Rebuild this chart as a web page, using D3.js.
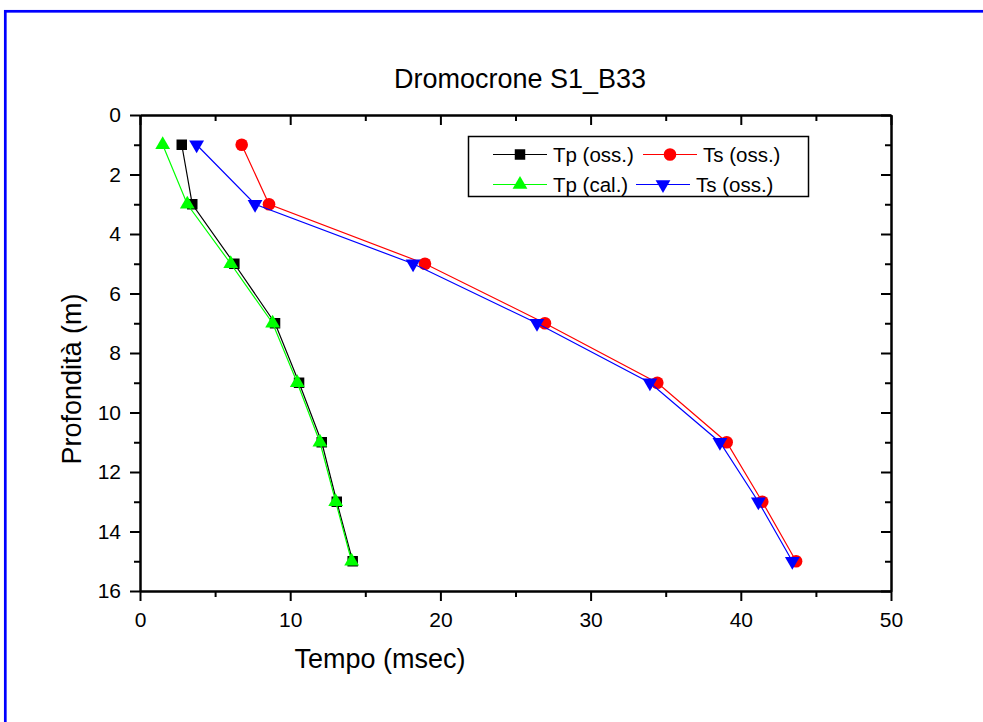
<!DOCTYPE html>
<html>
<head>
<meta charset="utf-8">
<script src="https://cdn.jsdelivr.net/npm/d3@7"></script>
<style>
  html, body { margin: 0; padding: 0; background: #fff; }
  svg { display: block; }
  text { font-family: "Liberation Sans", Arial, Helvetica, sans-serif; fill: #000; }
</style>
</head>
<body>
<svg id="chart" width="983" height="722"></svg>
<script>
// ---- data ----
const depths = [1, 3, 5, 7, 9, 11, 13, 15];
const tpOss = [2.78, 3.48, 6.28, 8.99, 10.59, 12.1, 13.1, 14.16];
const tsOss = [6.77, 8.59, 18.97, 26.96, 34.44, 39.06, 41.43, 43.68];
const tpCal = [1.51, 3.15, 6.04, 8.83, 10.47, 11.98, 13.03, 14.09];
const tsOss2 = [3.77, 7.66, 18.18, 26.43, 33.95, 38.61, 41.17, 43.43];
const seriesNames = ["Tp (oss.)", "Ts (oss.)", "Tp (cal.)", "Ts (oss.)"];
const xTicks = [0, 10, 20, 30, 40, 50];
const xMinorTicks = [5, 15, 25, 35, 45];
const yTicks = [0, 2, 4, 6, 8, 10, 12, 14, 16];
const yMinorTicks = [1, 3, 5, 7, 9, 11, 13, 15];
const chartTitle = "Dromocrone S1_B33";
const xTitle = "Tempo (msec)";
const yTitle = "Profondità (m)";

const series = [
  { name: seriesNames[0], values: tpOss, color: "#000000", symbol: d3.symbolSquare, size: 110, rot: 0 },
  { name: seriesNames[1], values: tsOss, color: "#ff0000", symbol: d3.symbolCircle, size: 125, rot: 0 },
  { name: seriesNames[2], values: tpCal, color: "#00ff00", symbol: d3.symbolTriangle, size: 95, rot: 0 },
  { name: seriesNames[3], values: tsOss2, color: "#0000ff", symbol: d3.symbolTriangle, size: 95, rot: 180 }
];

const svg = d3.select("#chart");

// outer blue frame
svg.append("rect")
  .attr("x", 5.3).attr("y", 11.3)
  .attr("width", 1100).attr("height", 1100)
  .attr("fill", "none").attr("stroke", "#0000ff").attr("stroke-width", 2.7);

const L = 140, R = 891, T = 115, B = 591;
const x = d3.scaleLinear().domain([0, 50]).range([L, R]);
const y = d3.scaleLinear().domain([0, 16]).range([T, B]);

function styleAxis(g) {
  g.select(".domain").attr("stroke", "#000").attr("stroke-width", 2);
  g.selectAll(".tick line").attr("stroke", "#000").attr("stroke-width", 2);
  g.selectAll(".tick text").attr("font-size", 21).attr("font-family", '"Liberation Sans", Arial, sans-serif').attr("fill", "#000");
}

// bottom axis
const gB = svg.append("g").attr("transform", `translate(0,${B})`)
  .call(d3.axisBottom(x).tickValues(xTicks).tickSize(10).tickPadding(11).tickSizeOuter(0).tickFormat(d3.format("d")));
styleAxis(gB);
const gBm = svg.append("g").attr("transform", `translate(0,${B})`)
  .call(d3.axisBottom(x).tickValues(xMinorTicks).tickSize(6).tickSizeOuter(0).tickFormat(""));
styleAxis(gBm);

// top axis (inward ticks)
const gT = svg.append("g").attr("transform", `translate(0,${T})`)
  .call(d3.axisTop(x).tickValues(xTicks).tickSize(-10).tickSizeOuter(0).tickFormat(""));
styleAxis(gT);
const gTm = svg.append("g").attr("transform", `translate(0,${T})`)
  .call(d3.axisTop(x).tickValues(xMinorTicks).tickSize(-6).tickSizeOuter(0).tickFormat(""));
styleAxis(gTm);

// left axis
const gL = svg.append("g").attr("transform", `translate(${L},0)`)
  .call(d3.axisLeft(y).tickValues(yTicks).tickSize(10).tickPadding(9).tickSizeOuter(0).tickFormat(d3.format("d")));
styleAxis(gL);
const gLm = svg.append("g").attr("transform", `translate(${L},0)`)
  .call(d3.axisLeft(y).tickValues(yMinorTicks).tickSize(6).tickSizeOuter(0).tickFormat(""));
styleAxis(gLm);

// right axis (inward ticks)
const gR = svg.append("g").attr("transform", `translate(${R},0)`)
  .call(d3.axisRight(y).tickValues(yTicks).tickSize(-10).tickSizeOuter(0).tickFormat(""));
styleAxis(gR);
const gRm = svg.append("g").attr("transform", `translate(${R},0)`)
  .call(d3.axisRight(y).tickValues(yMinorTicks).tickSize(-6).tickSizeOuter(0).tickFormat(""));
styleAxis(gRm);

// series
const line = d3.line().x(d => x(d.v)).y(d => y(d.d));
series.forEach(s => {
  const pts = s.values.map((v, i) => ({ v, d: depths[i] }));
  svg.append("path").datum(pts)
    .attr("fill", "none").attr("stroke", s.color).attr("stroke-width", 1.2)
    .attr("d", line);
  svg.append("g").selectAll("path").data(pts).join("path")
    .attr("d", d3.symbol().type(s.symbol).size(s.size))
    .attr("transform", d => `translate(${x(d.v)},${y(d.d)}) rotate(${s.rot})`)
    .attr("fill", s.color);
});

// titles
svg.append("text").attr("x", 520).attr("y", 88).attr("text-anchor", "middle")
  .attr("font-size", 27).text(chartTitle);
svg.append("text").attr("x", 380).attr("y", 668).attr("text-anchor", "middle")
  .attr("font-size", 27).text(xTitle);
svg.append("text").attr("transform", "translate(81,379) rotate(-90)").attr("text-anchor", "middle")
  .attr("font-size", 27).text(yTitle);

// legend
const legend = svg.append("g");
legend.append("rect").attr("x", 468.5).attr("y", 136.5).attr("width", 340).attr("height", 60)
  .attr("fill", "#fff").attr("stroke", "#000").attr("stroke-width", 1.5);
const legPos = [
  { lx: 493, ly: 154.5 },
  { lx: 643, ly: 154.5 },
  { lx: 493, ly: 184.5 },
  { lx: 636, ly: 184.5 }
];
series.forEach((s, i) => {
  const p = legPos[i];
  legend.append("line").attr("x1", p.lx).attr("x2", p.lx + 54).attr("y1", p.ly).attr("y2", p.ly)
    .attr("stroke", s.color).attr("stroke-width", 1.2);
  legend.append("path")
    .attr("d", d3.symbol().type(s.symbol).size(s.size))
    .attr("transform", `translate(${p.lx + 27},${p.ly}) rotate(${s.rot})`)
    .attr("fill", s.color);
  legend.append("text").attr("x", p.lx + 60).attr("y", p.ly + 7.5)
    .attr("font-size", 20.5).text(s.name);
});
</script>
</body>
</html>
